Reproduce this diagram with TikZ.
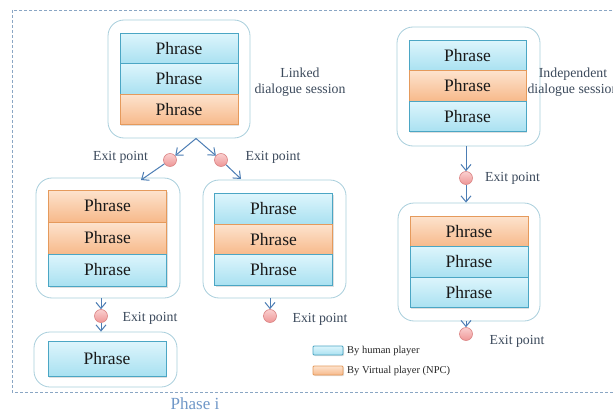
\documentclass[tikz,border=0pt]{standalone}
\usepackage{fontspec}
\setmainfont{Liberation Serif}
\usetikzlibrary{arrows.meta,shadows}
\definecolor{frameC}{HTML}{8AA6C4}
\definecolor{outerC}{HTML}{A9CFDC}
\definecolor{cyTop}{HTML}{DDF5FC}
\definecolor{cyBot}{HTML}{A9E1F1}
\definecolor{cyLine}{HTML}{4BA6C4}
\definecolor{orTop}{HTML}{FDE3CE}
\definecolor{orBot}{HTML}{F7B98A}
\definecolor{orLine}{HTML}{E59A5C}
\definecolor{arrC}{HTML}{4C7DB4}
\definecolor{pinkTop}{HTML}{FBD0D0}
\definecolor{pinkBot}{HTML}{EE9696}
\definecolor{pinkLine}{HTML}{DB8585}
\definecolor{labC}{HTML}{3C4A5C}
\definecolor{phaseC}{HTML}{7098C8}
\tikzset{
  outerbox/.style={draw=outerC, line width=0.8pt, rounded corners=16pt, fill=white, minimum width=#1},
  phr/.style={draw, line width=1pt, minimum width=118pt, inner sep=0pt,
     font=\fontsize{17.5}{18}\selectfont, text=black!90,
     drop shadow={opacity=0.25, shadow xshift=1pt, shadow yshift=-1.5pt}},
  human/.style={phr, draw=cyLine, top color=cyTop, bottom color=cyBot},
  npc/.style={phr, draw=orLine, top color=orTop, bottom color=orBot},
  exitc/.style={circle, minimum size=13pt, inner sep=0pt, draw=pinkLine, line width=0.6pt, top color=pinkTop, bottom color=pinkBot},
  arr/.style={draw=arrC, line width=1pt, -{Straight Barb[length=6pt,width=10pt]}},
  lab/.style={font=\fontsize{13.8}{15.5}\selectfont, text=labC, align=center, inner sep=0pt},
  leg/.style={font=\fontsize{10.5}{12}\selectfont, text=black!85, anchor=west, inner sep=0pt},
  legbox/.style={draw, line width=0.9pt, rounded corners=1pt, minimum width=30pt, minimum height=9pt, inner sep=0pt,
     drop shadow={opacity=0.25, shadow xshift=1pt, shadow yshift=-1pt}}
}
\begin{document}
\begin{tikzpicture}[x=1pt,y=1pt]
\useasboundingbox (0,0) rectangle (613,-412);
\clip (0,0) rectangle (613,-412);
\fill[white] (0,0) rectangle (613,-412);
% frame
\draw[frameC, line width=0.9pt, dash pattern=on 3pt off 2pt] (12,-10) rectangle (640,-392);
\node[font=\fontsize{17}{18}\selectfont, text=phaseC, anchor=base, inner sep=0pt] (phase) at (195,-409) {Phase i};

% Group A
\node[outerbox=142pt, minimum height=118pt] (oA) at (179,-79) {};
\node[human, minimum height=30.5pt] (a1) at (179,-48.5) {Phrase};
\node[human, minimum height=30.5pt] (a2) at (179,-79) {Phrase};
\node[npc, minimum height=30.5pt] (a3) at (179,-109.5) {Phrase};
\node[lab] (linked) at (300,-82) {Linked\\dialogue session};

% Group B
\node[outerbox=144pt, minimum height=120pt] (oB) at (108,-238) {};
\node[npc, minimum height=32pt] (b1) at (107.5,-206) {Phrase};
\node[npc, minimum height=32pt] (b2) at (107.5,-238) {Phrase};
\node[human, minimum height=32pt] (b3) at (107.5,-270) {Phrase};

% Group C
\node[outerbox=143pt, minimum height=118pt] (oC) at (274.5,-239) {};
\node[human, minimum height=30.5pt] (c1) at (273.5,-209) {Phrase};
\node[npc, minimum height=30.5pt] (c2) at (273.5,-239.5) {Phrase};
\node[human, minimum height=30.5pt] (c3) at (273.5,-270) {Phrase};

% Group D
\node[outerbox=143pt, minimum height=55pt] (oD) at (105.5,-359.5) {};
\node[human, minimum height=35pt] (d1) at (107,-358.5) {Phrase};

% Group E
\node[outerbox=143pt, minimum height=119pt] (oE) at (468.5,-86.5) {};
\node[human, minimum height=30.5pt, minimum width=117pt] (e1) at (467.5,-55.5) {Phrase};
\node[npc, minimum height=30.5pt, minimum width=117pt] (e2) at (467.5,-86) {Phrase};
\node[human, minimum height=30.5pt, minimum width=117pt] (e3) at (467.5,-116.5) {Phrase};
\node[lab] (indep) at (573,-82) {Independent\\dialogue session};

% Group F
\node[outerbox=142pt, minimum height=118pt] (oF) at (469,-262) {};
\node[npc, minimum height=30.7pt] (f1) at (469,-231.5) {Phrase};
\node[human, minimum height=30.7pt] (f2) at (469,-262) {Phrase};
\node[human, minimum height=30.7pt] (f3) at (469,-292.5) {Phrase};

% exit points
\node[exitc] (x1) at (170,-160) {};
\node[exitc] (x2) at (221,-160) {};
\node[exitc] (x3) at (101,-316) {};
\node[exitc] (x4) at (270,-316) {};
\node[exitc] (x5) at (466,-178) {};
\node[exitc] (x6) at (466,-334) {};
\node[lab] (lx1) at (120.5,-157) {Exit point};
\node[lab] (lx2) at (273,-157) {Exit point};
\node[lab] (lx3) at (150,-318) {Exit point};
\node[lab] (lx4) at (320,-319) {Exit point};
\node[lab] (lx5) at (512.5,-178) {Exit point};
\node[lab] (lx6) at (517,-341) {Exit point};

% connectors
\coordinate (apexA) at (196,-138.5);
\coordinate (tB) at (141,-180);
\coordinate (tC) at (241,-179);
\draw[arr] (apexA) -- (x1);
\draw[arr] (x1) -- (tB);
\draw[arr] (apexA) -- (x2);
\draw[arr] (x2) -- (tC);
\draw[arr] (x3 |- oB.south) -- (x3);
\draw[arr] (x3) -- (x3 |- oD.north);
\draw[arr] (x4 |- oC.south) -- (x4);
\draw[arr] (x5 |- oE.south) -- (x5);
\draw[arr] (x5) -- (x5 |- oF.north);
\draw[arr] (x6 |- oF.south) -- (x6);

% legend
\node[legbox, draw=cyLine, top color=cyTop, bottom color=cyBot] (lg1) at (328,-350.5) {};
\node[legbox, draw=orLine, top color=orTop, bottom color=orBot] (lg2) at (328,-370.5) {};
\node[leg] (lt1) at (347,-351) {By human player};
\node[leg] (lt2) at (347,-371) {By Virtual player (NPC)};
\end{tikzpicture}
\end{document}
